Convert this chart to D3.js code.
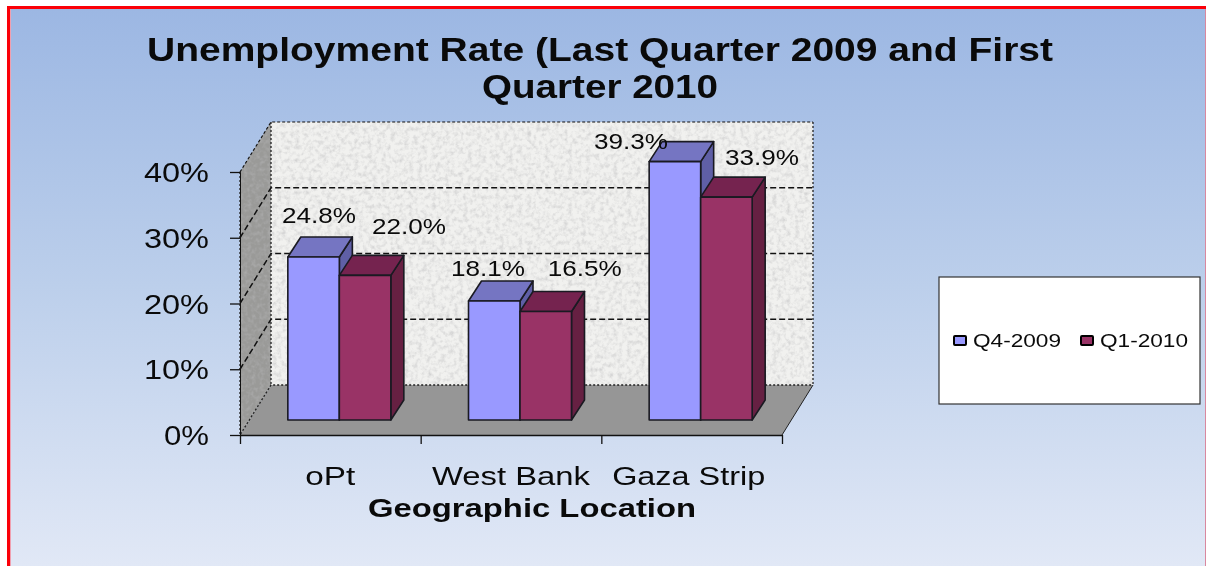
<!DOCTYPE html>
<html>
<head>
<meta charset="utf-8">
<script src="https://cdn.jsdelivr.net/npm/d3@7"></script>
<style>
html,body{margin:0;padding:0;background:#fff;overflow:hidden}
svg{display:block;filter:blur(0.45px)}
text{font-family:"Liberation Sans",Arial,sans-serif;fill:#0a0a0a}
</style>
</head>
<body>
<div id="chart"></div>
<script>
const categories = ["oPt", "West Bank", "Gaza Strip"];
const seriesNames = ["Q4-2009", "Q1-2010"];
const q4_2009 = [24.8, 18.1, 39.3];
const q1_2010 = [22.0, 16.5, 33.9];
const yTicks = [0, 10, 20, 30, 40];
const titleLines = ["Unemployment Rate (Last Quarter 2009 and First", "Quarter 2010"];
const xTitle = "Geographic Location";

const W = 1206, H = 566;
const svg = d3.select("#chart").append("svg").attr("width", W).attr("height", H);
const defs = svg.append("defs");

const grad = defs.append("linearGradient").attr("id", "bg").attr("x1", 0).attr("x2", 0).attr("y1", 0).attr("y2", 1);
grad.append("stop").attr("offset", "0%").attr("stop-color", "#9cb7e3");
grad.append("stop").attr("offset", "50%").attr("stop-color", "#bccfeb");
grad.append("stop").attr("offset", "100%").attr("stop-color", "#e1e8f6");

function noise(id, freq, grey, gain, bias) {
  const f = defs.append("filter").attr("id", id).attr("x", 0).attr("y", 0).attr("width", 1).attr("height", 1);
  f.append("feTurbulence").attr("type", "fractalNoise").attr("baseFrequency", freq).attr("numOctaves", 3).attr("seed", 4).attr("result", "n");
  f.append("feColorMatrix").attr("in", "n").attr("type", "matrix")
    .attr("values", `0 0 0 0 ${grey}  0 0 0 0 ${grey}  0 0 0 0 ${grey}  ${gain} 0 0 0 ${bias}`).attr("result", "d");
  f.append("feComposite").attr("in", "d").attr("in2", "SourceAlpha").attr("operator", "in").attr("result", "c");
  const m = f.append("feMerge");
  m.append("feMergeNode").attr("in", "SourceGraphic");
  m.append("feMergeNode").attr("in", "c");
}
noise("wallTex", 0.22, 0.66, 2.2, -0.92);
noise("sideTex", 0.25, 0.42, 1.6, -0.62);

// page frame
svg.append("rect").attr("x", 9).attr("y", 8).attr("width", W - 10).attr("height", H - 8).attr("fill", "url(#bg)");
svg.append("rect").attr("x", 7).attr("y", 6).attr("width", W - 7).attr("height", 3).attr("fill", "#fb0008");
svg.append("rect").attr("x", 7).attr("y", 6).attr("width", 3).attr("height", H - 6).attr("fill", "#fb0008");
svg.append("rect").attr("x", 10).attr("y", 9).attr("width", 1).attr("height", H - 9).attr("fill", "#f0a0b0");
svg.append("rect").attr("x", W - 1).attr("y", 9).attr("width", 1).attr("height", H - 9).attr("fill", "#d9889f");

// scales
const x = d3.scaleBand().domain(categories).range([240, 782]);
const xEdge = d3.scaleLinear().domain([0, 3]).range([240, 782]);
const y = d3.scaleLinear().domain([0, 40]).range([435, 172]);
const wall = { dx: 31, dy: -50 };
const barOff = { dx: 9, dy: -15 };
const depth = { dx: 13, dy: -20 };
const barW = 51.5;

const x0 = x.range()[0], x1 = x.range()[1], yb = y(0), yt = y(40);
const pts = a => a.map(p => p.join(",")).join(" ");

// back wall
svg.append("polygon")
  .attr("points", pts([[x0 + wall.dx, yb + wall.dy], [x1 + wall.dx, yb + wall.dy], [x1 + wall.dx, yt + wall.dy], [x0 + wall.dx, yt + wall.dy]]))
  .attr("fill", "#f1f1ef").attr("filter", "url(#wallTex)");
// side wall
svg.append("polygon")
  .attr("points", pts([[x0, yb], [x0 + wall.dx, yb + wall.dy], [x0 + wall.dx, yt + wall.dy], [x0, yt]]))
  .attr("fill", "#9a9a98").attr("filter", "url(#sideTex)");
// floor
svg.append("polygon")
  .attr("points", pts([[x0, yb], [x1, yb], [x1 + wall.dx, yb + wall.dy], [x0 + wall.dx, yb + wall.dy]]))
  .attr("fill", "#969696");

// gridlines
const grid = svg.append("g").attr("fill", "none").attr("stroke", "#111");
yTicks.filter(v => v > 0).forEach(v => {
  grid.append("path")
    .attr("d", `M${x0},${y(v)}L${x0 + wall.dx},${y(v) + wall.dy}L${x1 + wall.dx},${y(v) + wall.dy}`)
    .attr("stroke-width", v === 40 ? 1.2 : 1.5)
    .attr("stroke-dasharray", v === 40 ? "3,2" : "6,3");
});
// wall edges
const edges = svg.append("g").attr("fill", "none").attr("stroke", "#222").attr("stroke-width", 1.3).attr("stroke-dasharray", "2,2");
edges.append("path").attr("d", `M${x0 + wall.dx},${yt + wall.dy}V${yb + wall.dy}`);
edges.append("path").attr("d", `M${x1 + wall.dx},${yt + wall.dy}V${yb + wall.dy}`);
edges.append("path").attr("d", `M${x0},${yt}V${yb}L${x0 + wall.dx},${yb + wall.dy}H${x1 + wall.dx}`);
svg.append("path").attr("d", `M${x1},${yb}L${x1 + wall.dx},${yb + wall.dy}`).attr("stroke", "#222").attr("fill", "none");

// bars
const palette = [
  { front: "#9999ff", top: "#7575c2", side: "#5f5fa6" },
  { front: "#993366", top: "#75234f", side: "#662042" }
];
const rows = [];
categories.forEach((c, i) => {
  [q4_2009[i], q1_2010[i]].forEach((v, s) => rows.push({ c, v, s }));
});
const bars = svg.append("g").selectAll("g").data(rows).join("g")
  .attr("stroke", "#1a1a22").attr("stroke-width", 1.6).attr("stroke-linejoin", "round");
const bx = d => x(d.c) + x.bandwidth() / 2 + barOff.dx + (d.s - 1) * barW;
const by = d => y(d.v) + barOff.dy;
const b0 = yb + barOff.dy;
bars.append("polygon").attr("fill", d => palette[d.s].side)
  .attr("points", d => pts([[bx(d) + barW, by(d)], [bx(d) + barW + depth.dx, by(d) + depth.dy], [bx(d) + barW + depth.dx, b0 + depth.dy], [bx(d) + barW, b0]]));
bars.append("polygon").attr("fill", d => palette[d.s].top)
  .attr("points", d => pts([[bx(d), by(d)], [bx(d) + depth.dx, by(d) + depth.dy], [bx(d) + barW + depth.dx, by(d) + depth.dy], [bx(d) + barW, by(d)]]));
bars.append("rect").attr("fill", d => palette[d.s].front)
  .attr("x", bx).attr("y", by).attr("width", barW).attr("height", d => b0 - by(d));

// axes
const yAxis = d3.axisLeft(y).tickValues(yTicks).tickFormat(d => d + "%").tickSize(10).tickPadding(21);
const gy = svg.append("g").attr("transform", `translate(${x0},0)`).call(yAxis);
gy.select(".domain").attr("stroke", "#111");
gy.selectAll(".tick line").attr("stroke", "#111").attr("stroke-width", 1.3);
gy.selectAll("text").attr("font-size", 27).attr("dy", 9.5)
  .attr("textLength", d => d === 0 ? 45 : 65).attr("lengthAdjust", "spacingAndGlyphs").attr("fill", "#222");

const xAxis = d3.axisBottom(xEdge).tickValues(d3.range(categories.length + 1)).tickFormat("").tickSize(9).tickSizeOuter(0);
const gx = svg.append("g").attr("transform", `translate(0,${yb})`).call(xAxis);
gx.select(".domain").attr("stroke", "#111").attr("stroke-width", 1.6);
gx.selectAll(".tick line").attr("stroke", "#111").attr("stroke-width", 1.3);

const catWidths = [50, 158, 153];
const catNudge = [0, 0, -3];
svg.append("g").selectAll("text").data(categories).join("text")
  .attr("x", (d, i) => x(d) + x.bandwidth() / 2 + catNudge[i])
  .attr("y", 485).attr("text-anchor", "middle").attr("font-size", 26)
  .attr("textLength", (d, i) => catWidths[i]).attr("lengthAdjust", "spacingAndGlyphs")
  .attr("fill", "#222").text(d => d);

svg.append("text").attr("x", 532).attr("y", 517).attr("text-anchor", "middle")
  .attr("font-size", 26).attr("font-weight", "bold")
  .attr("textLength", 328).attr("lengthAdjust", "spacingAndGlyphs").text(xTitle);

// title
const titleY = [61, 98], titleW = [906, 236];
svg.append("g").selectAll("text").data(titleLines).join("text")
  .attr("x", 600).attr("y", (d, i) => titleY[i]).attr("text-anchor", "middle")
  .attr("font-size", 33).attr("font-weight", "bold")
  .attr("textLength", (d, i) => titleW[i]).attr("lengthAdjust", "spacingAndGlyphs").text(d => d);

// data labels (hand-placed in the source chart, so offsets from each bar)
const labelShift = [[5.4, -34], [44, -41], [-6.3, -25], [39, -35.5], [-44, -12.6], [35.6, -32]];
svg.append("g").selectAll("text").data(rows).join("text")
  .attr("x", (d, i) => bx(d) + barW / 2 + labelShift[i][0])
  .attr("y", (d, i) => by(d) + labelShift[i][1])
  .attr("text-anchor", "middle").attr("font-size", 22)
  .attr("textLength", 74).attr("lengthAdjust", "spacingAndGlyphs")
  .attr("fill", "#1a1a1a").text(d => d.v.toFixed(1) + "%");

// legend
svg.append("rect").attr("x", 939).attr("y", 277).attr("width", 261).attr("height", 127)
  .attr("fill", "#fff").attr("stroke", "#333").attr("stroke-width", 1.2);
const legendX = [954, 1081];
const lg = svg.append("g").selectAll("g").data(seriesNames).join("g")
  .attr("transform", (d, i) => `translate(${legendX[i]},336)`);
lg.append("rect").attr("width", 12).attr("height", 9).attr("rx", 1)
  .attr("fill", (d, i) => palette[i].front).attr("stroke", "#000").attr("stroke-width", 2);
lg.append("text").attr("x", 19).attr("y", 11).attr("font-size", 19)
  .attr("textLength", 88).attr("lengthAdjust", "spacingAndGlyphs").attr("fill", "#333").text(d => d);
</script>
</body>
</html>
